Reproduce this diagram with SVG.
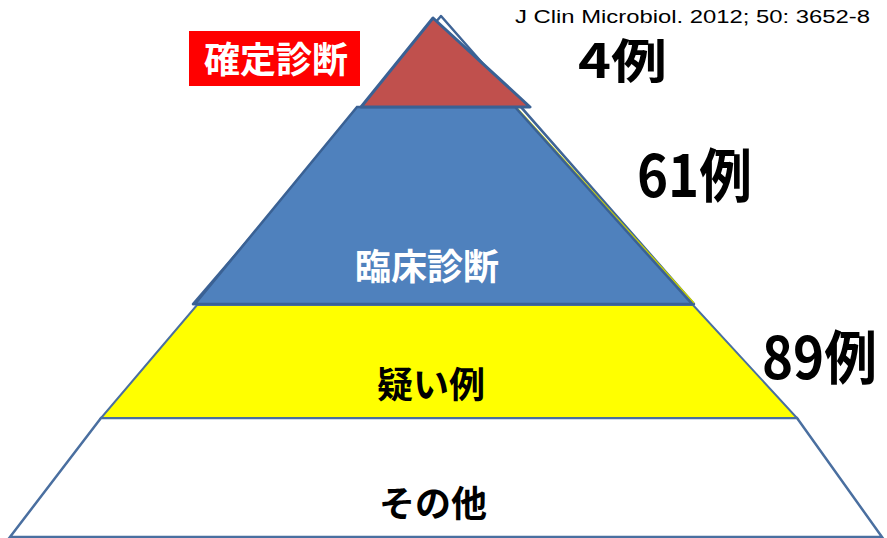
<svg xmlns="http://www.w3.org/2000/svg" width="887" height="538" viewBox="0 0 887 538">
<style>
.jp{font-family:"Noto Sans CJK JP","Noto Sans",sans-serif;font-weight:bold}
.num{font-family:"Noto Sans CJK JP","Liberation Sans",sans-serif;font-weight:bold;fill:#000}
.cite{font-family:"Liberation Sans",Arial,sans-serif;font-size:18px;fill:#000}
.lbl{font-size:36px;text-anchor:middle}
</style>
<rect width="887" height="538" fill="#fff"/>
<g id="outline">
<polygon points="441,16 193,304 694,304" fill="#fff" stroke="#3F6496" stroke-width="2.5" stroke-linejoin="round"/>
</g>
<g id="other">
<polygon points="101,418 797,418 882,537 10,537" fill="#fff" stroke="#4A6FA0" stroke-width="2.5"/>
<text class="jp lbl" x="433" y="517" fill="#000">その他</text>
</g>
<g id="suspect">
<polygon points="197,305 693,305 797,418 101,418" fill="#FFFF00" stroke="#4A6FA0" stroke-width="2"/>
<text class="jp lbl" x="431" y="398" fill="#000">疑い例</text>
</g>
<g id="clinical">
<line x1="517" y1="108" x2="694" y2="303" stroke="#C8D000" stroke-width="1.5"/>
<polygon points="357,107 515,107 692,304 195,304" fill="#4F81BD" stroke="#3A6194" stroke-width="2.5"/>
<text class="jp lbl" x="427" y="280" fill="#fff">臨床診断</text>
</g>
<g id="definite">
<polygon points="433,18 530,107 361,107" fill="#C0504D" stroke="#3A6194" stroke-width="3" stroke-linejoin="round"/>
<rect x="189" y="31" width="171" height="55" fill="#FF0000"/>
<text class="jp" x="276" y="73" font-size="36" text-anchor="middle" fill="#fff">確定診断</text>
</g>
<g id="counts">
<text class="num" x="578" y="78" font-size="47" textLength="89" lengthAdjust="spacingAndGlyphs">4例</text>
<text class="num" x="637" y="197" font-size="58" textLength="115" lengthAdjust="spacingAndGlyphs">61例</text>
<text class="num" x="762" y="379" font-size="58" textLength="115" lengthAdjust="spacingAndGlyphs">89例</text>
</g>
<g id="citation">
<text class="cite" x="515" y="23" textLength="355" lengthAdjust="spacingAndGlyphs">J Clin Microbiol. 2012; 50: 3652-8</text>
</g>
</svg>
